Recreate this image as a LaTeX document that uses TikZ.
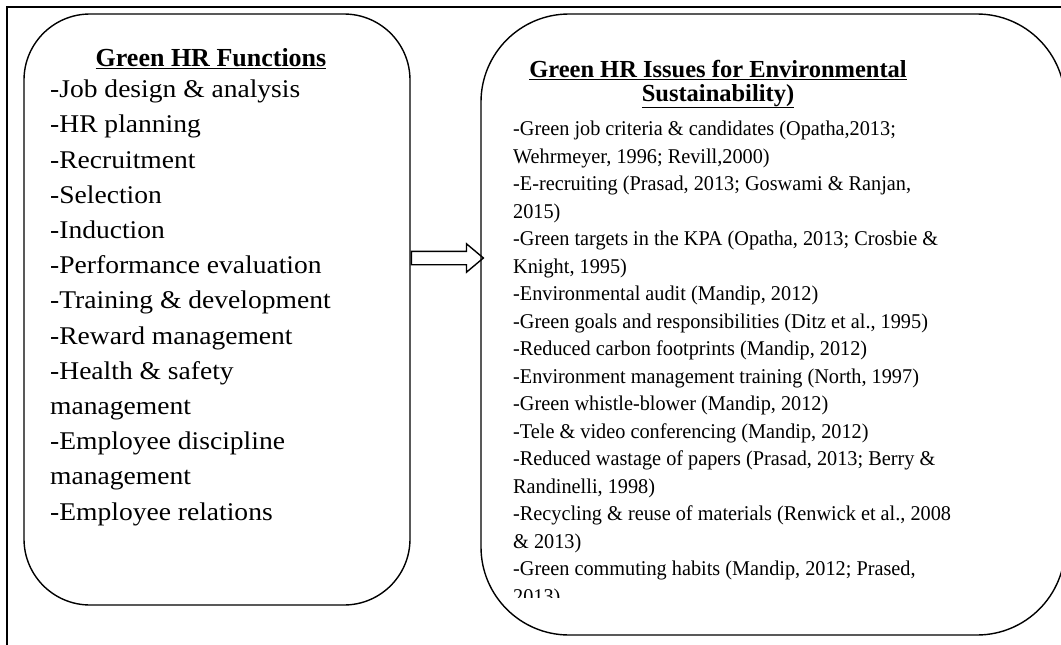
\documentclass[tikz,border=0pt]{standalone}
\usepackage{fontspec}
\setmainfont{Liberation Serif}
\newfontfamily\widerm[FakeStretch=1.08]{Liberation Serif}
\newfontfamily\narrowrm[FakeStretch=0.965]{Liberation Serif}
\usetikzlibrary{shapes.arrows}

\begin{document}
\begin{tikzpicture}[x=1pt, y=-1pt,
    panel/.style={draw, line width=1.4pt, rounded corners=#1, inner sep=0pt},
    heading/.style={anchor=base, align=center, font=\bfseries\fontsize{#1}{23.5}\selectfont},
    linkarrow/.style={draw, line width=1.4pt, single arrow, inner sep=6pt,
        single arrow head extend=7.5pt, single arrow tip angle=80,
        minimum height=72pt}]
    \useasboundingbox (0,0) rectangle (1061,645);
    \clip (0,0) rectangle (1061,645);

    % page frame (only top and left edges show)
    \draw[line width=2pt] (1061,7) -- (7,7) -- (7,645);

    % the two panels
    \node[panel=66pt, minimum width=386pt, minimum height=591pt] (functions) at (217,309.5) {};
    \node[panel=88pt, minimum width=584pt, minimum height=621pt] (issues) at (773,324.5) {};

    % left panel text (base = last line)
    \node[heading=26] (fntitle) at (211,66) {\underline{Green HR Functions}};
    \node[anchor=base west, align=left, inner sep=0pt,
          font=\widerm\fontsize{25.5}{35.2}\selectfont] (fnlist) at (50,520) {%
        -Job design \& analysis\\
        -HR planning\\
        -Recruitment\\
        -Selection\\
        -Induction\\
        -Performance evaluation\\
        -Training \& development\\
        -Reward management\\
        -Health \& safety\\
        management\\
        -Employee discipline\\
        management\\
        -Employee relations};

    % right panel text
    \node[heading=24.5] (istitle) at (718,101)
        {\underline{Green HR Issues for Environmental}\\\underline{Sustainability)}};
    \begin{scope}
        \clip (481,14) rectangle (1061,597);
        \node[anchor=base west, align=left, inner sep=0pt,
              font=\narrowrm\fontsize{21}{27.5}\selectfont] (islist) at (513,603) {%
            -Green job criteria \& candidates (Opatha,2013;\\
            Wehrmeyer, 1996; Revill,2000)\\
            -E-recruiting (Prasad, 2013; Goswami \& Ranjan,\\
            2015)\\
            -Green targets in the KPA (Opatha, 2013; Crosbie \&\\
            Knight, 1995)\\
            -Environmental audit (Mandip, 2012)\\
            -Green goals and responsibilities (Ditz et al., 1995)\\
            -Reduced carbon footprints (Mandip, 2012)\\
            -Environment management training (North, 1997)\\
            -Green whistle-blower (Mandip, 2012)\\
            -Tele \& video conferencing (Mandip, 2012)\\
            -Reduced wastage of papers (Prasad, 2013; Berry \&\\
            Randinelli, 1998)\\
            -Recycling \& reuse of materials (Renwick et al., 2008\\
            \& 2013)\\
            -Green commuting habits (Mandip, 2012; Prased,\\
            2013)};
    \end{scope}

    % functions lead to issues
    \node[linkarrow, anchor=tail] (link) at (functions.east |- 0,258) {};
\end{tikzpicture}
\end{document}
